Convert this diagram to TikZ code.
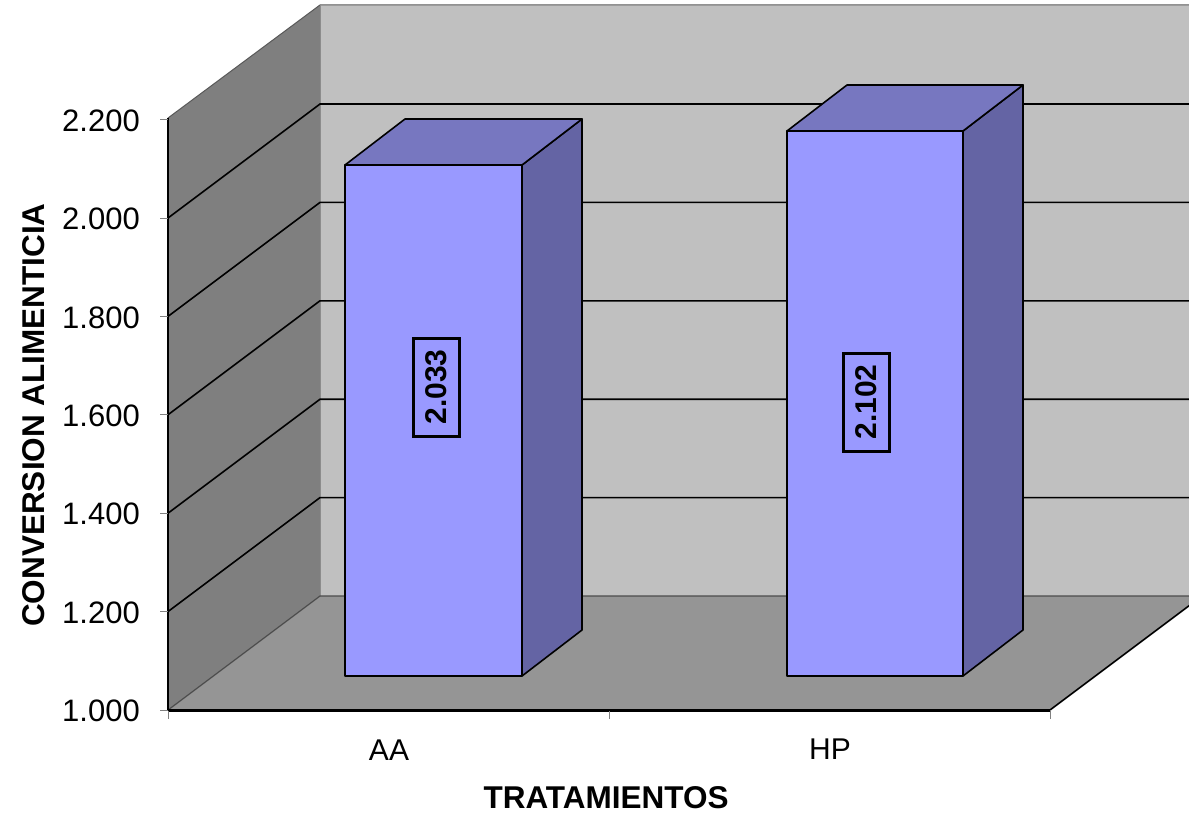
\documentclass[tikz,border=0pt]{standalone}
\usepackage{fontspec}
\setmainfont{Liberation Sans}
\definecolor{backwall}{HTML}{C0C0C0}
\definecolor{leftwall}{HTML}{7F7F7F}
\definecolor{floorc}{HTML}{959595}
\definecolor{barfront}{HTML}{9999FF}
\definecolor{bartop}{HTML}{7777C0}
\definecolor{barside}{HTML}{6464A4}
\begin{document}
\begin{tikzpicture}[x=1pt,y=-1pt,
  grid/.style={black,line width=1.6pt},
  tick/.style={gray,line width=1pt},
  barline/.style={black,line width=1.6pt,line join=round},
  ticklabel/.style={anchor=east,inner sep=0pt,font=\fontsize{31}{31}\selectfont},
  catlabel/.style={inner sep=0pt,font=\fontsize{30}{30}\selectfont},
  axtitle/.style={inner sep=0pt,font=\fontsize{31.5}{31.5}\selectfont\bfseries},
  valbox/.style={draw=black,line width=3pt,rotate=90,inner sep=0pt,minimum width=98pt,minimum height=46pt,font=\fontsize{30}{30}\selectfont\bfseries}]
\clip (0,0) rectangle (1189,816);
\fill[white] (0,0) rectangle (1189,816);
% walls and floor
\fill[backwall] (320,5) rectangle (1200,596);
\fill[leftwall] (168,118) -- (320,5) -- (320,596) -- (168,710) -- cycle;
\fill[floorc] (168,710) -- (1050,710) -- (1202,596) -- (320,596) -- cycle;
\draw[gray!70!black,line width=1pt] (168,118) -- (320,5) -- (1200,5);
\draw[gray!90!white,line width=1pt] (320,5) -- (320,596);
% gridlines
\foreach \k in {1,...,5}{
  \draw[grid] (168,{710-98.4*\k}) -- (320,{596-98.4*\k}) -- (1200,{596-98.4*\k});
}
\draw[black!70,line width=1.2pt] (168,710) -- (320,596) -- (1200,596);
\draw[black,line width=1.6pt] (1050,710) -- (1202,596);
% axes
\draw[black,line width=1.8pt] (168,118) -- (168,710);
\draw[black,line width=3pt] (168,710) -- (1050,710);
\foreach \k/\lab in {0/1.000,1/1.200,2/1.400,3/1.600,4/1.800,5/2.000,6/2.200}{
  \draw[tick] (160,{710-98.4*\k}) -- (168,{710-98.4*\k});
  \node[ticklabel] (yl\k) at (140,{711-98.4*\k}) {\lab};
}
\foreach \x in {168,609,1050}{
  \draw[tick] (\x,711) -- (\x,719);
}
% bar AA
\filldraw[barline,fill=barside] (522,676) -- (582,630) -- (582,119) -- (522,165) -- cycle;
\filldraw[barline,fill=bartop] (345,165) -- (405,119) -- (582,119) -- (522,165) -- cycle;
\filldraw[barline,fill=barfront] (345,165) rectangle (522,676);
% bar HP
\filldraw[barline,fill=barside] (963,676) -- (1023,630) -- (1023,85) -- (963,131) -- cycle;
\filldraw[barline,fill=bartop] (787,131) -- (847,85) -- (1023,85) -- (963,131) -- cycle;
\filldraw[barline,fill=barfront] (787,131) rectangle (963,676);
% value labels
\node[valbox] (vAA) at (436,387) {2.033};
\node[valbox] (vHP) at (866,402) {2.102};
% category labels
\node[catlabel] (cAA) at (389,750) {AA};
\node[catlabel] (cHP) at (830,749) {HP};
% axis titles
\node[axtitle] (xt) at (606,798) {TRATAMIENTOS};
\node[axtitle,rotate=90] (yt) at (34,415) {CONVERSION ALIMENTICIA};
\end{tikzpicture}
\end{document}
